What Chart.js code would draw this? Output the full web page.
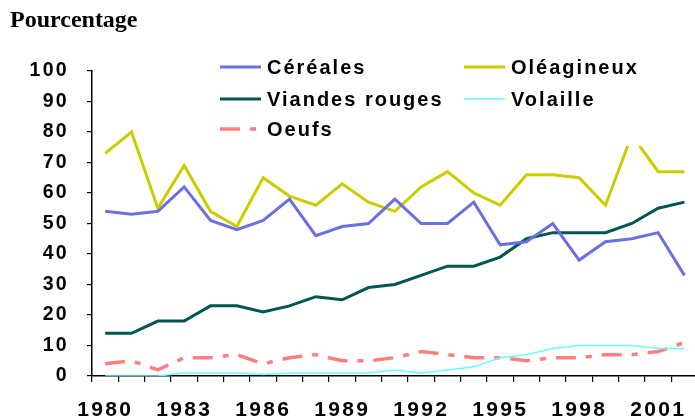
<!DOCTYPE html>
<html>
<head>
<meta charset="utf-8">
<script src="https://cdn.jsdelivr.net/npm/chart.js@4/dist/chart.umd.min.js"></script>
<style>
  html, body { margin: 0; padding: 0; background: #fff; }
  #wrap { width: 695px; height: 419px; }
</style>
</head>
<body>
<div id="wrap"><canvas id="chart" width="695" height="419"></canvas></div>
<script>
var years = [1980,1981,1982,1983,1984,1985,1986,1987,1988,1989,1990,1991,
             1992,1993,1994,1995,1996,1997,1998,1999,2000,2001,2002];
var yearLabels = ['1980','1983','1986','1989','1992','1995','1998','2001'];

var cereales   = [54,53,54,62,51,48,51,58,46,49,50,58,50,50,57,43,44,50,38,44,45,47,33];
var oleagineux = [73,80,55,69,54,49,65,59,56,63,57,54,62,67,60,56,66,66,65,56,79,67,67];
var viandes    = [14,14,18,18,23,23,21,23,26,25,29,30,33,36,36,39,45,47,47,47,50,55,57];
var volaille   = [0,0,0,1,1,1,0.5,1,1,1,1,2,1,2,3,6,7,9,10,10,10,9,9];
var oeufs      = [4,5,2,6,6,7,4,6,7,5,5,6,8,7,6,6,5,6,6,7,7,8,11];

var seriesNames = ['Céréales', 'Oléagineux', 'Viandes rouges', 'Volaille', 'Oeufs'];

function pts(values) {
    return years.map(function(yr, i) { return {x: yr, y: values[i]}; });
}

var FONT = "'Liberation Sans', Arial, sans-serif";
var SPACING = '2.3px';

// legend slots: [line x, row y] per dataset, text follows the line
var legendSlots = [[220, 67], [464, 67], [220, 99], [464, 99], [220, 129]];

var overlay = {
    id: 'overlay',
    beforeUpdate: function(chart) { chart.ctx.letterSpacing = SPACING; },
    beforeLayout: function(chart) { chart.ctx.letterSpacing = SPACING; },
    beforeDraw: function(chart) { chart.ctx.letterSpacing = SPACING; },
    afterDatasetsDraw: function(chart) {
        var ctx = chart.ctx;
        ctx.save();
        // legend box sits over the plot
        ctx.fillStyle = '#fff';
        ctx.fillRect(213, 50, 482, 96);
        ctx.font = 'bold 20px ' + FONT;
        ctx.letterSpacing = '2px';
        ctx.textBaseline = 'middle';
        ctx.textAlign = 'left';
        chart.data.datasets.forEach(function(ds, i) {
            var s = legendSlots[i];
            ctx.strokeStyle = ds.borderColor;
            ctx.lineWidth = ds.borderWidth;
            ctx.setLineDash(ds.borderDash || []);
            ctx.beginPath();
            ctx.moveTo(s[0], s[1]);
            ctx.lineTo(s[0] + 41, s[1]);
            ctx.stroke();
            ctx.setLineDash([]);
            ctx.fillStyle = '#000';
            ctx.fillText(ds.label, s[0] + 47, s[1] + 1.5);
        });
        ctx.letterSpacing = '0px';
        ctx.font = 'bold 24px "Liberation Serif", "Times New Roman", serif';
        ctx.textBaseline = 'alphabetic';
        ctx.fillText('Pourcentage', 10, 27);
        ctx.restore();
    }
};

var ctx = document.getElementById('chart').getContext('2d');
var chart = new Chart(ctx, {
    type: 'line',
    data: {
        datasets: [{
            label: seriesNames[0],
            data: pts(cereales),
            borderColor: '#6B70E0',
            borderWidth: 3
        }, {
            label: seriesNames[1],
            data: pts(oleagineux),
            borderColor: '#CCCC00',
            borderWidth: 3
        }, {
            label: seriesNames[2],
            data: pts(viandes),
            borderColor: '#00574F',
            borderWidth: 3
        }, {
            label: seriesNames[3],
            data: pts(volaille),
            borderColor: '#66FFFF',
            borderWidth: 1.5
        }, {
            label: seriesNames[4],
            data: pts(oeufs),
            borderColor: '#FF7F80',
            borderWidth: 3.5,
            borderDash: [20, 10, 6, 10]
        }]
    },
    options: {
        responsive: false,
        animation: false,
        layout: { padding: { top: 71, right: 0, bottom: 0, left: 0 } },
        elements: {
            point: { radius: 0 },
            line: { tension: 0, fill: false, borderCapStyle: 'butt' }
        },
        plugins: {
            legend: { display: false },
            title: { display: false },
            tooltip: { enabled: false }
        },
        scales: {
            x: {
                type: 'linear',
                min: 1979.5,
                max: 2002.4,
                afterFit: function(scale) { scale.height = 43; },
                afterBuildTicks: function(scale) {
                    var t = [];
                    for (var i = 0; i < years.length; i++) t.push({value: years[i] - 0.5});
                    scale.ticks = t;
                },
                grid: { drawOnChartArea: false, drawTicks: true, tickLength: 6, color: '#000', lineWidth: 1.2 },
                border: { color: '#000', width: 1.5 },
                ticks: {
                    autoSkip: false,
                    maxRotation: 0,
                    padding: 16,
                    labelOffset: 13.2,
                    color: '#000',
                    font: { family: FONT, size: 21, weight: 'bold' },
                    callback: function(v) {
                        var lbl = String(v + 0.5);
                        return yearLabels.indexOf(lbl) >= 0 ? lbl : '';
                    }
                }
            },
            y: {
                min: 0,
                max: 100,
                afterFit: function(scale) { scale.width = 92; },
                grid: { drawOnChartArea: false, drawTicks: true, tickLength: 5, color: '#000', lineWidth: 1.2 },
                border: { color: '#000', width: 1.5 },
                ticks: {
                    stepSize: 10,
                    padding: 18,
                    color: '#000',
                    font: { family: FONT, size: 19.5, weight: 'bold' }
                }
            }
        }
    },
    plugins: [overlay]
});
</script>
</body>
</html>
